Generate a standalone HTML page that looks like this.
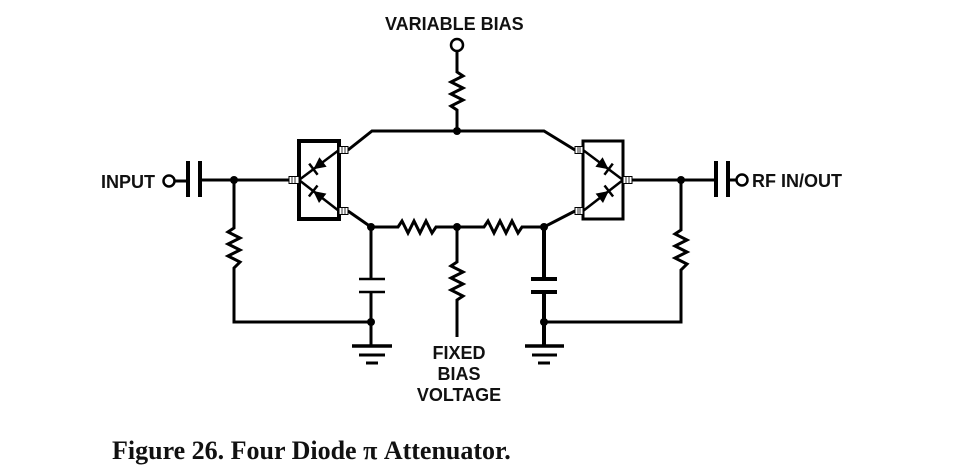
<!DOCTYPE html>
<html><head><style>
html,body{margin:0;padding:0;background:#fff;width:961px;height:467px;overflow:hidden}
svg{display:block}
.l{font-family:"Liberation Sans",sans-serif;font-weight:bold;font-size:18px;fill:#111}
</style></head><body>
<svg width="961" height="467" viewBox="0 0 961 467" xmlns="http://www.w3.org/2000/svg">
<g stroke="#000" stroke-width="3" fill="none" stroke-linecap="butt">
<circle cx="169" cy="181" r="5.5" stroke-width="2.5"/>
<line x1="175" y1="181" x2="188" y2="181"/>
<line x1="188" y1="161" x2="188" y2="197" stroke-width="4"/>
<line x1="200" y1="161" x2="200" y2="197" stroke-width="4"/>
<line x1="200" y1="180" x2="289" y2="180"/>
<polyline points="234,180 234,228 228,232 240,238 228,244 240,250 228,256 240,262 234,268 234,322 371,322"/>
<rect x="299" y="141" width="40" height="78" stroke-width="4"/>
<line x1="299" y1="180" x2="339" y2="150" stroke-width="2.5"/>
<line x1="299" y1="180" x2="339" y2="211" stroke-width="2.5"/>
<polyline points="348,150 372,131 544,131 575,150"/>
<polyline points="457,131 457,110 451,106 463,100 451,94 463,88 451,82 463,76 457,72 457,51"/>
<circle cx="457" cy="45" r="6" stroke-width="2.5"/>
<polyline points="348,211 371,227 398,227 402,221 408,233 414,221 420,233 426,221 432,233 436,227 484,227 488,221 494,233 500,221 506,233 512,221 518,233 522,227 544,227 575,211"/>
<polyline points="457,227 457,262 451,266 463,272 451,278 463,284 451,290 463,296 457,300 457,337"/>
<line x1="371" y1="227" x2="371" y2="279"/>
<line x1="359" y1="279" x2="385" y2="279" stroke-width="2.5"/>
<line x1="359" y1="292" x2="385" y2="292" stroke-width="2.5"/>
<line x1="371" y1="292" x2="371" y2="346"/>
<line x1="352" y1="346" x2="392" y2="346" stroke-width="3.5"/>
<line x1="359" y1="355" x2="385" y2="355" stroke-width="3"/>
<line x1="366" y1="363" x2="378" y2="363" stroke-width="3"/>
<line x1="544" y1="227" x2="544" y2="279" stroke-width="4"/>
<line x1="531" y1="279" x2="557" y2="279" stroke-width="4"/>
<line x1="531" y1="292" x2="557" y2="292" stroke-width="4"/>
<line x1="544" y1="292" x2="544" y2="346" stroke-width="4"/>
<line x1="525" y1="346" x2="564" y2="346" stroke-width="3.5"/>
<line x1="532" y1="355" x2="557" y2="355" stroke-width="3"/>
<line x1="538" y1="363" x2="550" y2="363" stroke-width="3"/>
<rect x="583" y="141" width="40" height="78" stroke-width="3"/>
<line x1="583" y1="150" x2="623" y2="180" stroke-width="2.5"/>
<line x1="583" y1="211" x2="623" y2="180" stroke-width="2.5"/>
<line x1="632" y1="180" x2="716" y2="180"/>
<line x1="716" y1="161" x2="716" y2="197" stroke-width="4"/>
<line x1="728" y1="161" x2="728" y2="197" stroke-width="4"/>
<line x1="728" y1="180" x2="736" y2="180"/>
<circle cx="742" cy="180" r="5.5" stroke-width="2.5"/>
<polyline points="681,180 681,230 675,234 687,240 675,246 687,252 675,258 687,264 681,270 681,322 544,322"/>
</g>
<g fill="#fff" stroke="#000" stroke-width="1">
<rect x="289" y="176.5" width="10" height="7"/><rect x="339" y="146.5" width="9" height="7"/><rect x="339" y="207.5" width="9" height="7"/>
<rect x="575" y="146.5" width="8" height="7"/><rect x="575" y="207.5" width="8" height="7"/><rect x="623" y="176.5" width="9" height="7"/>
</g>
<g stroke="#000" stroke-width="0.8">
<path d="M292 177v6M295 177v6M342 147v6M345 147v6M342 208v6M345 208v6M578 147v6M580 147v6M578 208v6M580 208v6M626 177v6M629 177v6"/>
</g>
<g fill="#000">
<polygon points="313.4,169.2 326.6,166.8 319.4,157.2"/>
<polygon points="313.2,191 319,203 326.4,193.6"/>
<polygon points="608.6,169.2 602.6,157.2 595.4,166.8"/>
<polygon points="608.8,191 603,203 595.6,193.6"/>
</g>
<g stroke="#000" stroke-width="2.5">
<line x1="317.6" y1="174.8" x2="309.2" y2="163.6"/>
<line x1="308.9" y1="196.5" x2="317.5" y2="185.5"/>
<line x1="612.8" y1="163.6" x2="604.4" y2="174.8"/>
<line x1="613.1" y1="196.5" x2="604.5" y2="185.5"/>
</g>
<g fill="#000">
<circle cx="234" cy="180" r="4"/><circle cx="457" cy="131" r="4"/><circle cx="371" cy="227" r="4"/><circle cx="457" cy="227" r="4"/><circle cx="544" cy="227" r="4"/><circle cx="371" cy="322" r="4"/><circle cx="544" cy="322" r="4"/><circle cx="681" cy="180" r="4"/>
</g>
<text class="l" x="385" y="30">VARIABLE BIAS</text>
<text class="l" x="101" y="188">INPUT</text>
<text class="l" x="752" y="187">RF IN/OUT</text>
<text class="l" x="459" y="359" text-anchor="middle">FIXED</text>
<text class="l" x="459" y="380" text-anchor="middle">BIAS</text>
<text class="l" x="459" y="401" text-anchor="middle">VOLTAGE</text>
<text x="112" y="459" font-family="Liberation Serif,serif" font-weight="bold" font-size="26" fill="#111">Figure 26. Four Diode π Attenuator.</text>
</svg>
</body></html>
